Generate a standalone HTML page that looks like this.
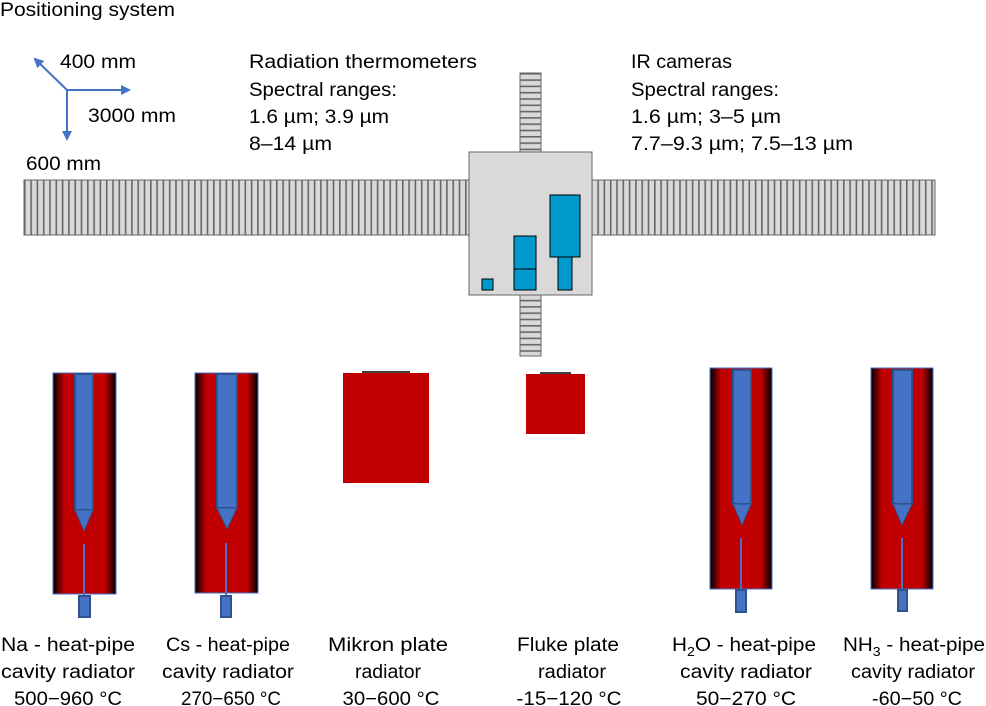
<!DOCTYPE html>
<html><head><meta charset="utf-8"><style>html,body{margin:0;padding:0;background:#fff}svg{display:block}</style></head><body>
<svg width="986" height="706" viewBox="0 0 986 706" xmlns="http://www.w3.org/2000/svg" font-family="'Liberation Sans', sans-serif" font-size="19" fill="#000">
<defs>
<pattern id="vs" x="24" y="0" width="6.3" height="10" patternUnits="userSpaceOnUse"><rect width="6.3" height="10" fill="#d9d9d9"/><rect x="0" width="1.6" height="10" fill="#666"/></pattern>
<pattern id="hs" x="0" y="73" width="10" height="6.3" patternUnits="userSpaceOnUse"><rect width="10" height="6.3" fill="#d9d9d9"/><rect y="0" width="10" height="1.6" fill="#666"/></pattern>
<linearGradient id="hp" x1="0" x2="1" y1="0" y2="0"><stop offset="0" stop-color="#000"/><stop offset="0.18" stop-color="#c00000"/><stop offset="0.82" stop-color="#c00000"/><stop offset="1" stop-color="#000"/></linearGradient>
<marker id="ar" markerWidth="10" markerHeight="10" refX="8" refY="5" orient="auto" markerUnits="userSpaceOnUse"><path d="M0,0 L10,5 L0,10 z" fill="#4472c4"/></marker>
</defs>
<text x="0" y="16" textLength="175" lengthAdjust="spacingAndGlyphs">Positioning system</text>
<text x="60" y="68" textLength="76" lengthAdjust="spacingAndGlyphs">400 mm</text>
<text x="88" y="122" textLength="88" lengthAdjust="spacingAndGlyphs">3000 mm</text>
<text x="26" y="170" textLength="75" lengthAdjust="spacingAndGlyphs">600 mm</text>
<text x="249" y="68" textLength="228" lengthAdjust="spacingAndGlyphs">Radiation thermometers</text>
<text x="249" y="96" textLength="148" lengthAdjust="spacingAndGlyphs">Spectral ranges:</text>
<text x="249" y="123" textLength="140" lengthAdjust="spacingAndGlyphs">1.6 µm; 3.9 µm</text>
<text x="249" y="150" textLength="83" lengthAdjust="spacingAndGlyphs">8–14 µm</text>
<text x="631" y="68" textLength="101" lengthAdjust="spacingAndGlyphs">IR cameras</text>
<text x="631" y="96" textLength="148" lengthAdjust="spacingAndGlyphs">Spectral ranges:</text>
<text x="631" y="123" textLength="150" lengthAdjust="spacingAndGlyphs">1.6 µm; 3–5 µm</text>
<text x="631" y="150" textLength="222" lengthAdjust="spacingAndGlyphs">7.7–9.3 µm; 7.5–13 µm</text>
<g stroke="#4472c4" stroke-width="2" fill="none">
<line x1="67" y1="90" x2="35" y2="59" marker-end="url(#ar)"/>
<line x1="67" y1="90" x2="129" y2="90" marker-end="url(#ar)"/>
<line x1="67" y1="90" x2="67" y2="139" marker-end="url(#ar)"/>
</g>
<rect x="24" y="180" width="911" height="55" fill="url(#vs)" stroke="#666" stroke-width="1"/>
<rect x="520" y="73" width="21" height="283" fill="url(#hs)" stroke="#666" stroke-width="1"/>
<rect x="469" y="152" width="123" height="143" fill="#d9d9d9" stroke="#666" stroke-width="1"/>
<g fill="#0099cc" stroke="#000" stroke-width="1">
<rect x="482" y="279" width="11" height="11"/>
<rect x="514" y="236" width="22" height="54"/>
<line x1="514" y1="269" x2="536" y2="269"/>
<rect x="550" y="195" width="30" height="62"/>
<rect x="558" y="257" width="14" height="33"/>
</g>
<rect x="343" y="373" width="86" height="110" fill="#c00000"/>
<line x1="362" y1="372" x2="410" y2="372" stroke="#000" stroke-width="1.5"/>
<rect x="526" y="374" width="59" height="60" fill="#c00000"/>
<line x1="540" y1="373" x2="571" y2="373" stroke="#000" stroke-width="1.5"/>
<g stroke="#2f528f">
<rect x="53" y="373" width="63" height="221" fill="url(#hp)" stroke="#4472c4" stroke-width="1"/>
<rect x="75" y="374" width="18" height="136" fill="#4472c4" stroke-width="2"/>
<path d="M75,510 L93,510 L84,531 z" fill="#4472c4" stroke-width="1"/>
<line x1="84" y1="544" x2="84" y2="597" stroke="#4472c4" stroke-width="2"/>
<rect x="79" y="596" width="11" height="21" fill="#4472c4" stroke-width="2"/>
<rect x="195" y="373" width="63" height="220" fill="url(#hp)" stroke="#4472c4" stroke-width="1"/>
<rect x="217" y="374" width="20" height="134" fill="#4472c4" stroke-width="2"/>
<path d="M217,508 L237,508 L227,529 z" fill="#4472c4" stroke-width="1"/>
<line x1="226" y1="543" x2="226" y2="597" stroke="#4472c4" stroke-width="2"/>
<rect x="221" y="596" width="10" height="21" fill="#4472c4" stroke-width="2"/>
<rect x="710" y="368" width="62" height="221" fill="url(#hp)" stroke="#4472c4" stroke-width="1"/>
<rect x="733" y="370" width="18" height="134" fill="#4472c4" stroke-width="2"/>
<path d="M733,504 L751,504 L742,525 z" fill="#4472c4" stroke-width="1"/>
<line x1="741" y1="538" x2="741" y2="591" stroke="#4472c4" stroke-width="2"/>
<rect x="736" y="590" width="10" height="22" fill="#4472c4" stroke-width="2"/>
<rect x="871" y="368" width="62" height="221" fill="url(#hp)" stroke="#4472c4" stroke-width="1"/>
<rect x="893" y="370" width="19" height="134" fill="#4472c4" stroke-width="2"/>
<path d="M893,504 L912,504 L902,525 z" fill="#4472c4" stroke-width="1"/>
<line x1="902" y1="538" x2="902" y2="591" stroke="#4472c4" stroke-width="2"/>
<rect x="898" y="590" width="9" height="21" fill="#4472c4" stroke-width="2"/>
</g>
<g text-anchor="middle">
<text x="68" y="651" textLength="134" lengthAdjust="spacingAndGlyphs">Na - heat-pipe</text>
<text x="68" y="678" textLength="134" lengthAdjust="spacingAndGlyphs">cavity radiator</text>
<text x="68" y="705" textLength="108" lengthAdjust="spacingAndGlyphs">500−960 °C</text>
<text x="228" y="651" textLength="124" lengthAdjust="spacingAndGlyphs">Cs - heat-pipe</text>
<text x="228" y="678" textLength="132" lengthAdjust="spacingAndGlyphs">cavity radiator</text>
<text x="231" y="705" textLength="100" lengthAdjust="spacingAndGlyphs">270−650 °C</text>
<text x="388" y="651" textLength="120" lengthAdjust="spacingAndGlyphs">Mikron plate</text>
<text x="388" y="678" textLength="66" lengthAdjust="spacingAndGlyphs">radiator</text>
<text x="391" y="705" textLength="97" lengthAdjust="spacingAndGlyphs">30−600 °C</text>
<text x="568" y="651" textLength="102" lengthAdjust="spacingAndGlyphs">Fluke plate</text>
<text x="572" y="678" textLength="68" lengthAdjust="spacingAndGlyphs">radiator</text>
<text x="569" y="705" textLength="105" lengthAdjust="spacingAndGlyphs">-15−120 °C</text>
<text x="744" y="651" textLength="144" lengthAdjust="spacingAndGlyphs">H<tspan font-size="13" dy="5">2</tspan><tspan dy="-5">O - heat-pipe</tspan></text>
<text x="746" y="678" textLength="132" lengthAdjust="spacingAndGlyphs">cavity radiator</text>
<text x="746" y="705" textLength="100" lengthAdjust="spacingAndGlyphs">50−270 °C</text>
<text x="914" y="651" textLength="142" lengthAdjust="spacingAndGlyphs">NH<tspan font-size="13" dy="5">3</tspan><tspan dy="-5"> - heat-pipe</tspan></text>
<text x="913" y="678" textLength="124" lengthAdjust="spacingAndGlyphs">cavity radiator</text>
<text x="917" y="705" textLength="90" lengthAdjust="spacingAndGlyphs">-60−50 °C</text>
</g>
</svg>
</body></html>
